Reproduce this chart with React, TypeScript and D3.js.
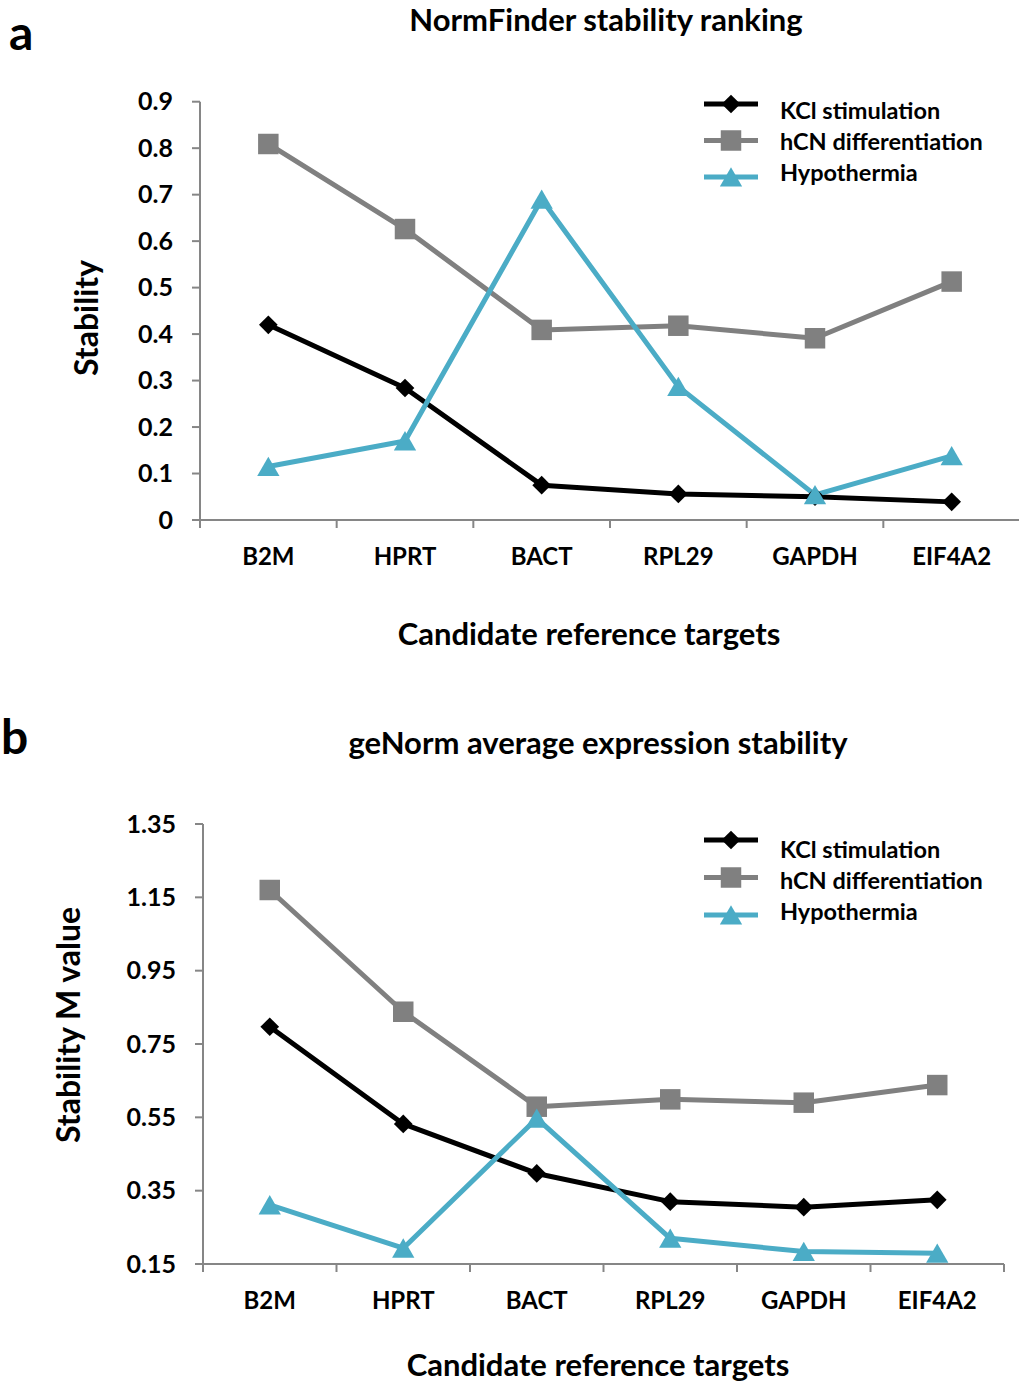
import React, { useEffect, useRef } from "react";
import * as d3 from "d3";

// candidate reference genes (x categories)
const targets = ["B2M", "HPRT", "BACT", "RPL29", "GAPDH", "EIF4A2"];
const seriesNames = ["KCl stimulation", "hCN differentiation", "Hypothermia"];

// panel a: NormFinder stability
const normKcl = [0.42, 0.284, 0.075, 0.056, 0.05, 0.039];
const normHcn = [0.809, 0.626, 0.409, 0.418, 0.391, 0.513];
const normHypo = [0.115, 0.17, 0.69, 0.287, 0.054, 0.138];
const normTicks = ["0", "0.1", "0.2", "0.3", "0.4", "0.5", "0.6", "0.7", "0.8", "0.9"];

// panel b: geNorm M value
const geKcl = [0.797, 0.532, 0.397, 0.32, 0.305, 0.325];
const geHcn = [1.17, 0.838, 0.579, 0.599, 0.59, 0.638];
const geHypo = [0.311, 0.193, 0.547, 0.22, 0.184, 0.179];
const geTicks = ["0.15", "0.35", "0.55", "0.75", "0.95", "1.15", "1.35"];

const colors = ["#000000", "#808080", "#4bacc6"];
const FONT = "Lato, 'Open Sans', sans-serif";

// excel-like markers: diamond = rotated square, square, triangle centred on its box
const marker = (sel, si, cx, cy) => {
  if (si === 0) {
    sel.append("path")
      .attr("d", d3.symbol().type(d3.symbolSquare).size(175)())
      .attr("transform", `translate(${cx},${cy}) rotate(45)`)
      .attr("fill", colors[si]);
  } else if (si === 1) {
    sel.append("path")
      .attr("d", d3.symbol().type(d3.symbolSquare).size(420)())
      .attr("transform", `translate(${cx},${cy})`)
      .attr("fill", colors[si]);
  } else {
    sel.append("path")
      .attr("d", d3.symbol().type(d3.symbolTriangle).size(215)())
      .attr("transform", `translate(${cx},${cy + 3})`)
      .attr("fill", colors[si]);
  }
};

const drawPanel = (svg, cfg) => {
  const g = svg.append("g");
  const x = d3.scaleBand().domain(targets).range(cfg.xRange).padding(0);
  const y = d3.scaleLinear().domain(cfg.yDomain).range(cfg.yRange);
  const axisColor = "#868686";
  const cx = (i) => x(targets[i]) + x.bandwidth() / 2;

  // y axis
  g.append("line")
    .attr("x1", cfg.xRange[0]).attr("x2", cfg.xRange[0])
    .attr("y1", cfg.yRange[0]).attr("y2", cfg.yRange[1])
    .attr("stroke", axisColor).attr("stroke-width", 2);
  cfg.ticks.forEach((t) => {
    const yy = y(+t);
    g.append("line")
      .attr("x1", cfg.xRange[0] - 8).attr("x2", cfg.xRange[0])
      .attr("y1", yy).attr("y2", yy)
      .attr("stroke", axisColor).attr("stroke-width", 2);
    g.append("text")
      .attr("x", cfg.xRange[0] - 27).attr("y", yy)
      .attr("dy", "0.35em").attr("text-anchor", "end")
      .attr("font-size", 25).attr("font-weight", "bold")
      .attr("font-family", FONT).text(t);
  });

  // x axis, ticks on category boundaries
  g.append("line")
    .attr("x1", cfg.xRange[0]).attr("x2", cfg.xRange[1])
    .attr("y1", cfg.yRange[0]).attr("y2", cfg.yRange[0])
    .attr("stroke", axisColor).attr("stroke-width", 2);
  const bounds = targets.map((d) => x(d)).concat([cfg.xRange[1]]);
  bounds.forEach((bx) => {
    g.append("line")
      .attr("x1", bx).attr("x2", bx)
      .attr("y1", cfg.yRange[0]).attr("y2", cfg.yRange[0] + 8)
      .attr("stroke", axisColor).attr("stroke-width", 2);
  });
  targets.forEach((d, i) => {
    g.append("text")
      .attr("x", cx(i)).attr("y", cfg.yRange[0] + 37)
      .attr("dy", "0.35em").attr("text-anchor", "middle")
      .attr("font-size", 24).attr("font-weight", "bold")
      .attr("font-family", FONT).text(d);
  });

  // lines then markers on top
  const line = d3.line().x((d, i) => cx(i)).y((d) => y(d));
  cfg.series.forEach((vals, si) => {
    g.append("path")
      .attr("d", line(vals))
      .attr("fill", "none").attr("stroke", colors[si])
      .attr("stroke-width", 5).attr("stroke-linejoin", "round");
  });
  cfg.series.forEach((vals, si) => {
    vals.forEach((v, i) => marker(g, si, cx(i), y(v)));
  });

  // legend
  seriesNames.forEach((name, si) => {
    const ly = cfg.legendY + si * cfg.legendGap;
    g.append("line")
      .attr("x1", 704).attr("x2", 758).attr("y1", ly).attr("y2", ly)
      .attr("stroke", colors[si]).attr("stroke-width", 5);
    marker(g, si, 731, ly);
    g.append("text")
      .attr("x", 780).attr("y", cfg.legendTextY + si * 31).attr("dy", "0.35em")
      .attr("font-size", 23.5).attr("font-weight", "bold")
      .attr("font-family", FONT).text(name);
  });

  // titles
  g.append("text")
    .attr("x", cfg.titleX).attr("y", cfg.titleY).attr("text-anchor", "middle")
    .attr("font-size", 31).attr("font-weight", "bold")
    .attr("font-family", FONT).text(cfg.title);
  g.append("text")
    .attr("x", cfg.xTitleX).attr("y", cfg.xTitleY).attr("text-anchor", "middle")
    .attr("font-size", 31).attr("font-weight", "bold")
    .attr("font-family", FONT).text("Candidate reference targets");
  g.append("text")
    .attr("transform", `translate(${cfg.yTitleX},${cfg.yTitleY}) rotate(-90)`)
    .attr("text-anchor", "middle")
    .attr("font-size", 32).attr("font-weight", "bold")
    .attr("font-family", FONT).text(cfg.yTitle);
  g.append("text")
    .attr("x", cfg.letterX).attr("y", cfg.letterY)
    .attr("font-size", 48).attr("font-weight", "bold")
    .attr("font-family", FONT).text(cfg.letter);
};

const App = () => {
  const ref = useRef(null);

  useEffect(() => {
    const svg = d3.select(ref.current);
    svg.selectAll("*").remove();

    drawPanel(svg, {
      xRange: [200, 1020],
      yDomain: [0, 0.9],
      yRange: [520, 101.7],
      ticks: normTicks,
      series: [normKcl, normHcn, normHypo],
      legendY: 104,
      legendGap: 36.5,
      legendTextY: 111,
      title: "NormFinder stability ranking",
      titleX: 606, titleY: 31,
      xTitleX: 589, xTitleY: 645,
      yTitle: "Stability",
      yTitleX: 98, yTitleY: 318,
      letter: "a", letterX: 9, letterY: 50,
    });

    drawPanel(svg, {
      xRange: [203, 1004],
      yDomain: [0.15, 1.35],
      yRange: [1264, 824],
      ticks: geTicks,
      series: [geKcl, geHcn, geHypo],
      legendY: 840,
      legendGap: 37.5,
      legendTextY: 850,
      title: "geNorm average expression stability",
      titleX: 598, titleY: 754,
      xTitleX: 598, xTitleY: 1376,
      yTitle: "Stability M value",
      yTitleX: 80, yTitleY: 1025,
      letter: "b", letterX: 1, letterY: 754,
    });
  });

  return (
    <svg
      ref={ref}
      width={1019}
      height={1385}
      style={{ position: "absolute", left: 0, top: 0, background: "#fff" }}
    ></svg>
  );
};

export default App;
